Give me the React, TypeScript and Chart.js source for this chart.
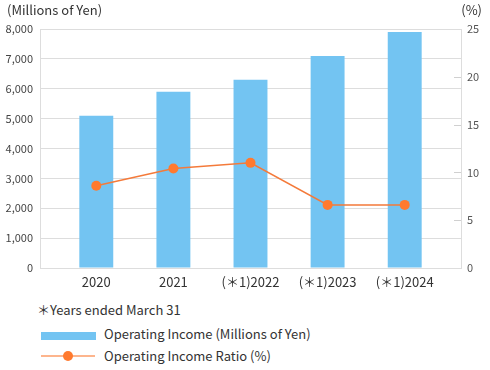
import React, { useEffect, useRef } from "react";
import { Chart, registerables } from "chart.js";

Chart.register(...registerables);

const categories = ["2020", "2021", "(＊1)2022", "(＊1)2023", "(＊1)2024"];
const operatingIncome = [5100, 5900, 6300, 7100, 7900];
const operatingRatio = [8.6, 10.4, 11.0, 6.6, 6.6];
const leftTicks = [0, 1000, 2000, 3000, 4000, 5000, 6000, 7000, 8000];
const rightTicks = [0, 5, 10, 15, 20, 25];

const FONT = '"Noto Sans CJK JP", "Noto Sans", sans-serif';
const BAR_COLOR = "#73C4F2";
const LINE_COLOR = "#F47A3A";
const POINT_COLOR = "#FF7A2F";
const GRID = "#DDDDDD";
const TEXT = "#333333";

const innerTicks = {
  id: "innerTicks",
  afterDraw(chart: any) {
    const s = chart.scales.y1;
    const ctx = chart.ctx;
    ctx.save();
    ctx.strokeStyle = "#D0D0D0";
    ctx.lineWidth = 1;
    rightTicks.forEach((v) => {
      if (v === 0 || v === 25) return;
      const y = Math.round(s.getPixelForValue(v)) + 0.5;
      ctx.beginPath();
      ctx.moveTo(chart.chartArea.right - 7, y);
      ctx.lineTo(chart.chartArea.right, y);
      ctx.stroke();
    });
    ctx.restore();
  },
};

export default function App() {
  const ref = useRef<HTMLCanvasElement>(null);
  useEffect(() => {
    document.body.style.margin = "0";
    const chart = new Chart(ref.current!, {
      type: "bar",
      data: {
        datasets: [
          {
            type: "line",
            label: "Operating Income Ratio (%)",
            data: operatingRatio.map((y, i) => ({ x: i + 1, y })),
            xAxisID: "x",
            yAxisID: "y1",
            borderColor: LINE_COLOR,
            borderWidth: 1.5,
            pointRadius: 5,
            pointBackgroundColor: POINT_COLOR,
            pointBorderColor: POINT_COLOR,
            pointBorderWidth: 0,
            order: 0,
          } as any,
          {
            type: "bar",
            label: "Operating Income (Millions of Yen)",
            data: operatingIncome.map((y, i) => ({ x: i + 1, y })),
            xAxisID: "x",
            yAxisID: "y",
            backgroundColor: BAR_COLOR,
            borderWidth: 0,
            barPercentage: 0.44,
            categoryPercentage: 1,
            order: 1,
          },
        ],
      },
      options: {
        animation: false,
        responsive: false,
        maintainAspectRatio: false,
        layout: { padding: { top: 29, left: 0, right: 0, bottom: 0 } },
        plugins: { legend: { display: false }, tooltip: { enabled: false } },
        scales: {
          x: {
            type: "linear",
            offset: false,
            min: 0.27,
            max: 5.73,
            afterBuildTicks: (s: any) => {
              s.ticks = categories.map((_, i) => ({ value: i + 1 }));
            },
            afterFit: (s: any) => {
              s.height = 22;
            },
            ticks: {
              callback: (v: any) => categories[Math.round(Number(v)) - 1] ?? "",
              font: { family: FONT, size: 13 },
              color: TEXT,
              padding: 6,
              autoSkip: false,
              maxRotation: 0,
            },
            grid: { display: false, drawTicks: false, offset: false },
            border: { display: true, color: GRID },
          },
          y: {
            position: "left",
            min: 0,
            max: 8000,
            afterBuildTicks: (s: any) => {
              s.ticks = leftTicks.map((v) => ({ value: v }));
            },
            afterFit: (s: any) => {
              s.width = 40;
            },
            ticks: {
              callback: (v: any) => Number(v).toLocaleString("en-US"),
              font: { family: FONT, size: 11 },
              color: "#444444",
              padding: 7,
            },
            grid: { color: GRID, drawTicks: false },
            border: { display: true, color: GRID },
          },
          y1: {
            position: "right",
            min: 0,
            max: 25,
            afterBuildTicks: (s: any) => {
              s.ticks = rightTicks.map((v) => ({ value: v }));
            },
            afterFit: (s: any) => {
              s.width = 29;
            },
            ticks: {
              font: { family: FONT, size: 11 },
              color: "#555555",
              padding: 6,
            },
            grid: { drawOnChartArea: false, drawTicks: false },
            border: { display: true, color: GRID },
          },
        },
      },
      plugins: [innerTicks],
    });
    return () => chart.destroy();
  }, []);

  const txt: React.CSSProperties = {
    position: "absolute",
    fontFamily: FONT,
    fontSize: 13,
    color: TEXT,
    whiteSpace: "nowrap",
    lineHeight: "16px",
  };

  return (
    <div style={{ position: "relative", width: 490, height: 370, background: "#fff" }}>
      <canvas ref={ref} width={490} height={290} style={{ position: "absolute", left: 0, top: 0, width: 490, height: 290 }} />
      <div style={{ ...txt, left: 7, top: 2 }}>(Millions of Yen)</div>
      <div style={{ ...txt, right: 8, top: 2 }}>(%)</div>
      <div style={{ ...txt, left: 37, top: 302 }}>＊Years ended March 31</div>
      <div style={{ position: "absolute", left: 41, top: 332, width: 55, height: 8, background: BAR_COLOR }} />
      <div style={{ ...txt, left: 104, top: 326 }}>Operating Income (Millions of Yen)</div>
      <div style={{ position: "absolute", left: 41, top: 355, width: 54, height: 2, background: "#FDB58D" }} />
      <div style={{ position: "absolute", left: 63, top: 351, width: 10, height: 10, borderRadius: 5, background: POINT_COLOR }} />
      <div style={{ ...txt, left: 104, top: 348 }}>Operating Income Ratio (%)</div>
    </div>
  );
}
